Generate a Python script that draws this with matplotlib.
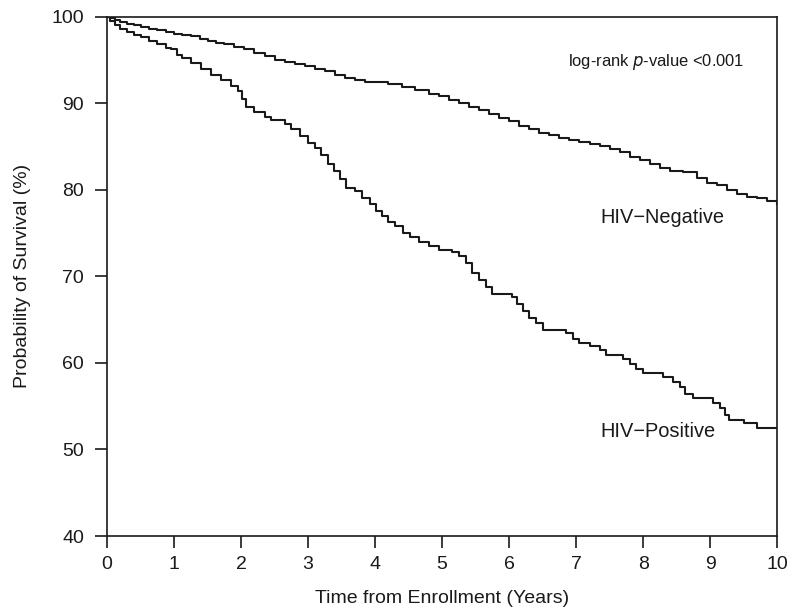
import matplotlib.pyplot as plt

# --- Kaplan-Meier steps ---
neg_t = [0, 0.05, 0.12, 0.2, 0.3, 0.4, 0.5, 0.62, 0.75, 0.88, 1.0, 1.12, 1.25,
         1.38, 1.5, 1.62, 1.75, 1.9, 2.05, 2.2, 2.35, 2.5, 2.65, 2.8, 2.95, 3.1,
         3.25, 3.4, 3.55, 3.7, 3.85, 4.0, 4.2, 4.4, 4.6, 4.8, 4.95, 5.1, 5.25,
         5.4, 5.55, 5.7, 5.85, 6.0, 6.15, 6.3, 6.45, 6.6, 6.75, 6.9, 7.05, 7.2,
         7.35, 7.5, 7.65, 7.8, 7.95, 8.1, 8.25, 8.4, 8.6, 8.8, 8.95, 9.1, 9.25,
         9.4, 9.55, 9.7, 9.85, 10.0]
neg_s = [100, 99.8, 99.6, 99.4, 99.2, 99.0, 98.8, 98.6, 98.4, 98.2, 98.0, 97.9,
         97.7, 97.4, 97.2, 97.0, 96.8, 96.5, 96.2, 95.8, 95.4, 95.0, 94.7, 94.5,
         94.3, 94.0, 93.7, 93.3, 92.9, 92.7, 92.5, 92.4, 92.2, 91.9, 91.5, 91.1,
         90.8, 90.4, 90.0, 89.6, 89.2, 88.8, 88.3, 87.9, 87.4, 87.0, 86.6, 86.3,
         86.0, 85.8, 85.5, 85.3, 85.1, 84.7, 84.3, 83.8, 83.4, 83.0, 82.5, 82.2,
         82.0, 81.3, 80.8, 80.6, 80.0, 79.5, 79.2, 79.0, 78.7, 78.4]

pos_t = [0, 0.05, 0.12, 0.2, 0.3, 0.4, 0.5, 0.62, 0.75, 0.88, 0.95, 1.05, 1.12,
         1.25, 1.4, 1.55, 1.7, 1.85, 1.95, 2.02, 2.08, 2.2, 2.35, 2.45, 2.65,
         2.75, 2.88, 3.0, 3.1, 3.2, 3.3, 3.38, 3.48, 3.56, 3.7, 3.8, 3.92, 4.02,
         4.1, 4.2, 4.3, 4.42, 4.52, 4.65, 4.8, 4.95, 5.15, 5.25, 5.35, 5.45,
         5.55, 5.65, 5.75, 6.05, 6.12, 6.2, 6.3, 6.4, 6.5, 6.85, 6.95, 7.05,
         7.2, 7.35, 7.45, 7.7, 7.8, 7.9, 8.0, 8.3, 8.45, 8.55, 8.62, 8.75, 9.05,
         9.15, 9.22, 9.28, 9.5, 9.7, 10.0]
pos_s = [100, 99.5, 99.0, 98.6, 98.2, 97.9, 97.6, 97.2, 96.8, 96.4, 96.2, 95.6,
         95.2, 94.6, 94.0, 93.2, 92.7, 92.0, 91.4, 90.5, 89.6, 89.0, 88.4, 88.0,
         87.6, 87.0, 86.2, 85.4, 84.8, 84.0, 83.0, 82.2, 81.2, 80.2, 79.8, 79.0,
         78.3, 77.6, 77.0, 76.3, 75.8, 75.0, 74.5, 74.0, 73.5, 73.0, 72.8, 72.3,
         71.5, 70.4, 69.6, 68.8, 68.0, 67.6, 66.8, 66.0, 65.2, 64.6, 63.8, 63.4,
         62.8, 62.3, 61.9, 61.5, 60.9, 60.5, 59.9, 59.3, 58.8, 58.4, 57.8, 57.2,
         56.4, 55.9, 55.4, 54.8, 54.0, 53.4, 53.0, 52.5, 52.5]

x_ticks = list(range(0, 11))
y_ticks = [40, 50, 60, 70, 80, 90, 100]

plt.rcParams['font.family'] = ['Liberation Sans', 'DejaVu Sans']
COR = '#1a1a1a'

fig = plt.figure(figsize=(7.93, 6.14), dpi=100)
ax = fig.add_axes([0.135, 0.127, 0.845, 0.846])

ax.plot(neg_t, neg_s, drawstyle='steps-post', color=COR, linewidth=1.5)
ax.plot(pos_t, pos_s, drawstyle='steps-post', color=COR, linewidth=1.5)

ax.set_xlim(0, 10)
ax.set_ylim(40, 100)
ax.set_xticks(x_ticks)
ax.set_yticks(y_ticks)
ax.tick_params(direction='out', length=8.5, width=1.2, labelsize=14,
               colors=COR)
ax.tick_params(axis='y', pad=8)
ax.tick_params(axis='x', pad=6)
for s in ax.spines.values():
    s.set_linewidth(1.2)
    s.set_color(COR)

ax.set_xlabel('Time from Enrollment (Years)', fontsize=14, color=COR, labelpad=12)
ax.set_ylabel('Probability of Survival (%)', fontsize=14, color=COR, labelpad=15)

ax.text(7.36, 76.8, 'HIV\u2212Negative', fontsize=14.4, color=COR, va='center')
ax.text(7.36, 52.1, 'HIV\u2212Positive', fontsize=14.4, color=COR, va='center')
ax.text(6.88, 94.7, 'log-rank $\\it{p}$-value <0.001', fontsize=11.9,
        color=COR, va='center')

fig.savefig('out.png', dpi=100)
